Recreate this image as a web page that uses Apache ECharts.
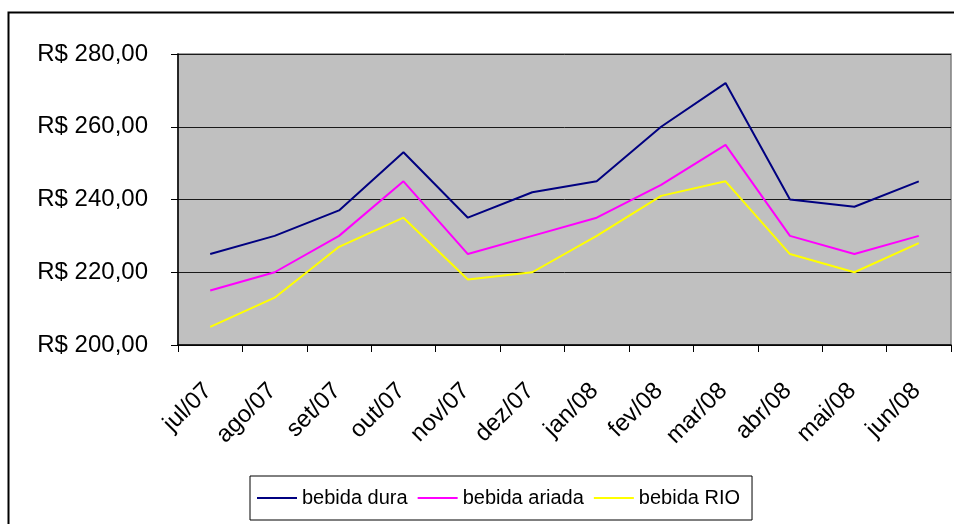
<!DOCTYPE html>
<html>
<head>
<meta charset="utf-8">
<script src="https://cdn.jsdelivr.net/npm/echarts@6/dist/echarts.min.js"></script>
<style>
html,body{margin:0;padding:0;background:#fff;}
#chart{width:954px;height:524px;}
</style>
</head>
<body>
<div id="chart"></div>
<script>
const categories = ['jul/07','ago/07','set/07','out/07','nov/07','dez/07','jan/08','fev/08','mar/08','abr/08','mai/08','jun/08'];
const bebidaDura = [225, 230, 237, 253, 235, 242, 245, 260, 272, 240, 238, 245];
const bebidaAriada = [215, 220, 230, 245, 225, 230, 235, 244, 255, 230, 225, 230];
const bebidaRio = [205, 213, 227, 235, 218, 220, 230, 241, 245, 225, 220, 228];
const seriesNames = ['bebida dura', 'bebida ariada', 'bebida RIO'];
const seriesColors = ['#000080', '#FF00FF', '#FFFF00'];
const seriesData = [bebidaDura, bebidaAriada, bebidaRio];

const chart = echarts.init(document.getElementById('chart'));
const font = 'Liberation Sans, Arial, sans-serif';
chart.setOption({
  animation: false,
  backgroundColor: '#fff',
  graphic: [{
    type: 'rect', silent: true,
    shape: { x: 8.5, y: 12.5, width: 960, height: 530 },
    style: { fill: 'none', stroke: '#000', lineWidth: 2 }
  }],
  grid: {
    left: 178, top: 54, right: 3, bottom: 179,
    show: true, backgroundColor: '#C0C0C0', borderColor: '#808080', borderWidth: 1.5
  },
  legend: {
    left: 250, top: 476, width: 520,
    padding: [12, 12, 12, 7],
    itemGap: 10, itemWidth: 40, itemHeight: 2,
    icon: 'rect',
    borderColor: '#000', borderWidth: 1,
    textStyle: { fontFamily: font, fontSize: 20, color: '#000' },
    data: seriesNames
  },
  xAxis: {
    type: 'category',
    data: categories,
    boundaryGap: true,
    axisLine: { lineStyle: { color: '#000', width: 1.5 } },
    axisTick: { show: true, length: 7, alignWithLabel: false, lineStyle: { color: '#000' } },
    axisLabel: { rotate: 45, margin: 40, padding: [0, 3, 0, 0], fontFamily: font, fontSize: 24, color: '#000', interval: 0 }
  },
  yAxis: {
    type: 'value',
    min: 200, max: 280, interval: 20,
    axisLine: { show: true, lineStyle: { color: '#000', width: 1.5 } },
    axisTick: { show: true, length: 7, lineStyle: { color: '#000' } },
    splitLine: { show: true, lineStyle: { color: '#1a1a1a', width: 1 } },
    axisLabel: {
      margin: 30, fontFamily: font, fontSize: 24, color: '#000',
      formatter: v => 'R$ ' + v.toFixed(2).replace('.', ',')
    }
  },
  series: seriesNames.map((n, i) => ({
    name: n, type: 'line', data: seriesData[i],
    symbol: 'none', showSymbol: false,
    lineStyle: { color: seriesColors[i], width: 2 },
    itemStyle: { color: seriesColors[i] }
  }))
});
</script>
</body>
</html>
